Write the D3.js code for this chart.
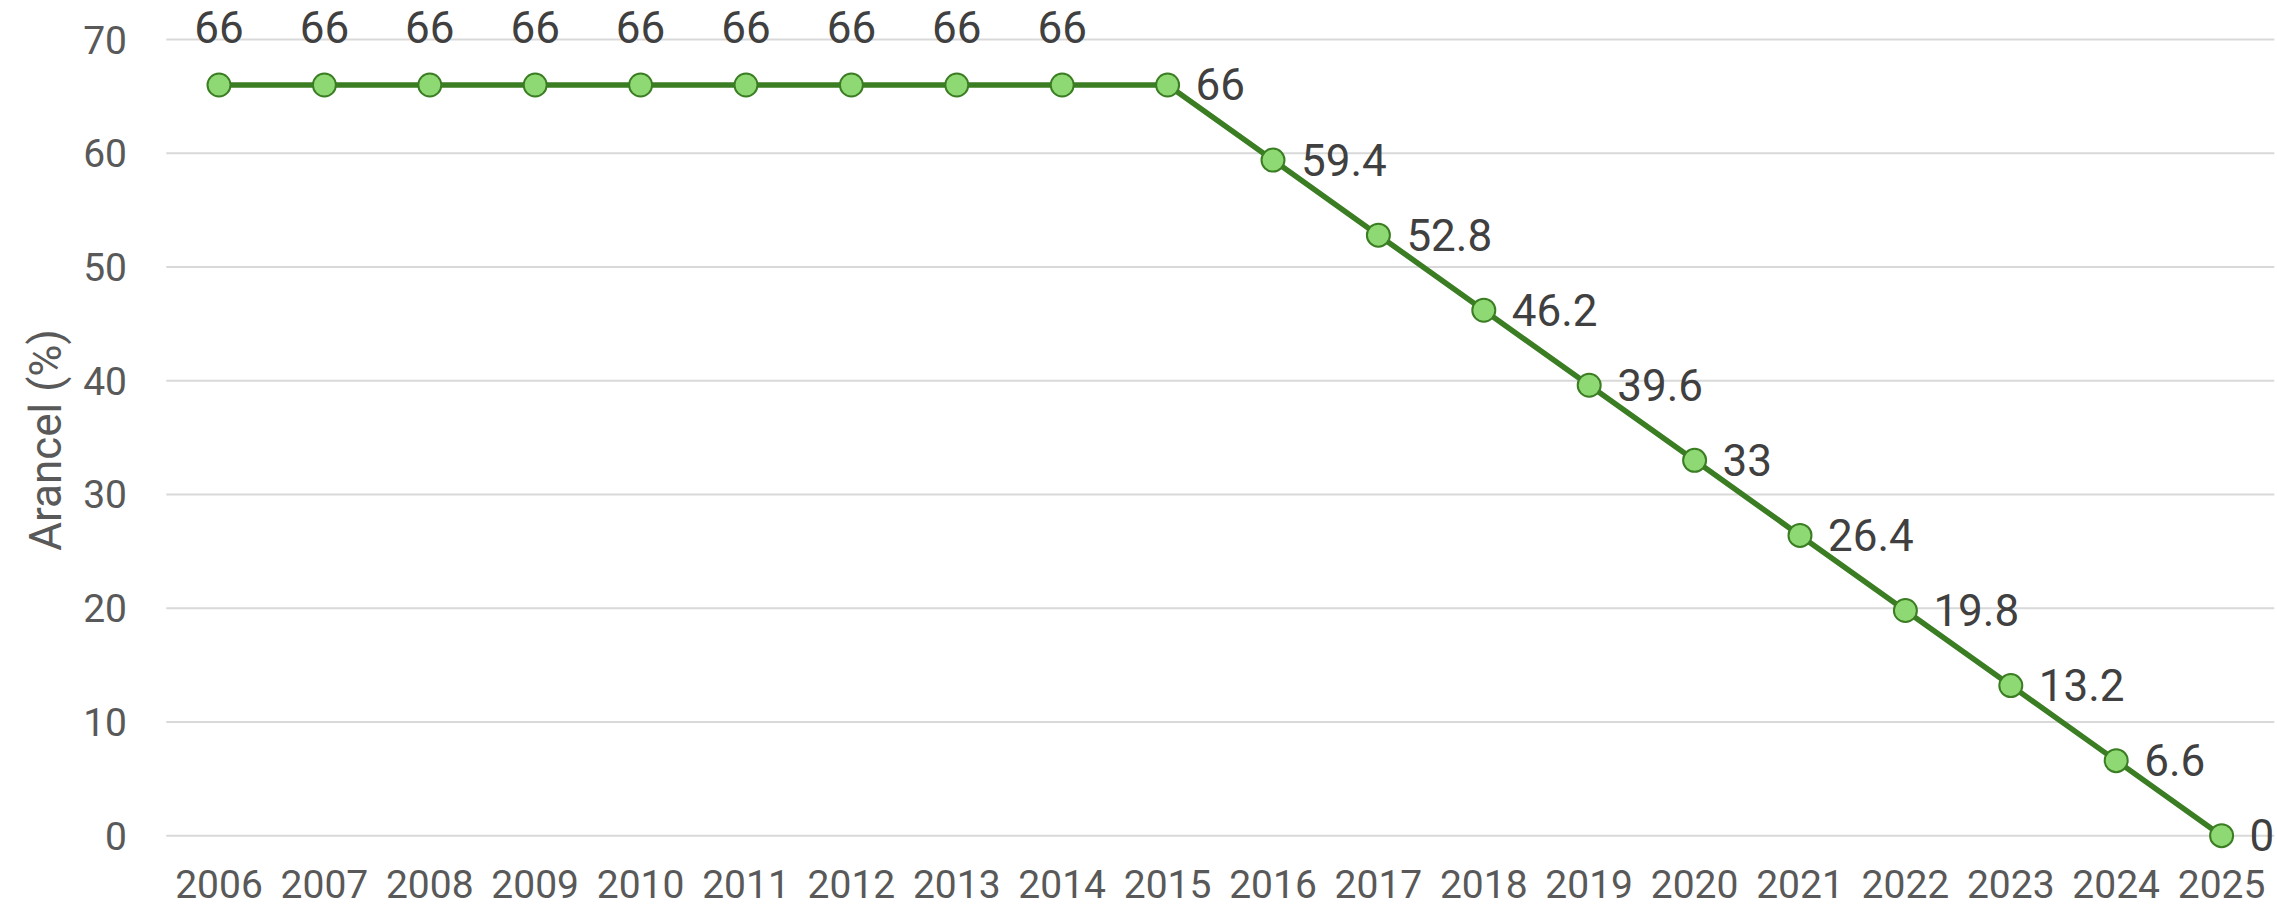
<!DOCTYPE html>
<html>
<head>
<meta charset="utf-8">
<script src="https://cdn.jsdelivr.net/npm/d3@7"></script>
<style>
  html, body { margin: 0; padding: 0; background: #fff; }
  svg { display: block; font-family: Roboto, "Liberation Sans", sans-serif; }
</style>
</head>
<body>
<svg id="chart" width="2277" height="910"></svg>
<script>
// data
var years = ['2006', '2007', '2008', '2009', '2010', '2011', '2012', '2013', '2014', '2015',
  '2016', '2017', '2018', '2019', '2020', '2021', '2022', '2023', '2024', '2025'];
var arancel = [66, 66, 66, 66, 66, 66, 66, 66, 66, 66,
  59.4, 52.8, 46.2, 39.6, 33, 26.4, 19.8, 13.2, 6.6, 0];
var yTicks = [0, 10, 20, 30, 40, 50, 60, 70];
var yTitle = 'Arancel (%)';

var svg = d3.select('#chart');

// plot area (window.top is reserved, so no bare "top")
var plotL = 166.3, plotR = 2274.3, plotT = 39.5, plotB = 835.7;

var x = d3.scalePoint().domain(years).range([plotL, plotR]).padding(0.5);
var y = d3.scaleLinear().domain([0, 70]).range([plotB, plotT]);

// gridlines
svg.append('g').selectAll('line')
  .data(yTicks)
  .enter().append('line')
  .attr('x1', plotL).attr('x2', plotR)
  .attr('y1', function (d) { return y(d); })
  .attr('y2', function (d) { return y(d); })
  .attr('stroke', '#d9d9d9')
  .attr('stroke-width', 2);

// y tick labels
svg.append('g').selectAll('text')
  .data(yTicks)
  .enter().append('text')
  .attr('x', 127)
  .attr('y', function (d) { return y(d) + 14; })
  .attr('text-anchor', 'end')
  .attr('fill', '#595959')
  .style('font-size', '39px')
  .text(function (d) { return d; });

// x tick labels
svg.append('g').selectAll('text')
  .data(years)
  .enter().append('text')
  .attr('x', function (d) { return x(d); })
  .attr('y', 898)
  .attr('text-anchor', 'middle')
  .attr('fill', '#595959')
  .style('font-size', '39px')
  .text(function (d) { return d; });

// axis title
svg.append('text')
  .attr('transform', 'translate(61,440) rotate(-90)')
  .attr('text-anchor', 'middle')
  .attr('fill', '#595959')
  .style('font-size', '44px')
  .text(yTitle);

var pts = years.map(function (d, i) { return { year: d, value: arancel[i], i: i }; });

var line = d3.line()
  .x(function (d) { return x(d.year); })
  .y(function (d) { return y(d.value); });

svg.append('path')
  .datum(pts)
  .attr('d', line)
  .attr('fill', 'none')
  .attr('stroke', '#3b7d23')
  .attr('stroke-width', 5.5)
  .attr('stroke-linejoin', 'round');

svg.append('g').selectAll('circle')
  .data(pts)
  .enter().append('circle')
  .attr('cx', function (d) { return x(d.year); })
  .attr('cy', function (d) { return y(d.value); })
  .attr('r', 11.5)
  .attr('fill', '#8ed973')
  .attr('stroke', '#3b7d23')
  .attr('stroke-width', 2);

// data labels: above for the flat run, to the right once it starts falling
svg.append('g').selectAll('text')
  .data(pts)
  .enter().append('text')
  .attr('x', function (d) { return d.i < 9 ? x(d.year) : x(d.year) + 28; })
  .attr('y', function (d) { return d.i < 9 ? y(d.value) - 42 : y(d.value) + 15.5; })
  .attr('text-anchor', function (d) { return d.i < 9 ? 'middle' : 'start'; })
  .attr('fill', '#404040')
  .style('font-size', '44px')
  .text(function (d) { return d.value; });
</script>
</body>
</html>
